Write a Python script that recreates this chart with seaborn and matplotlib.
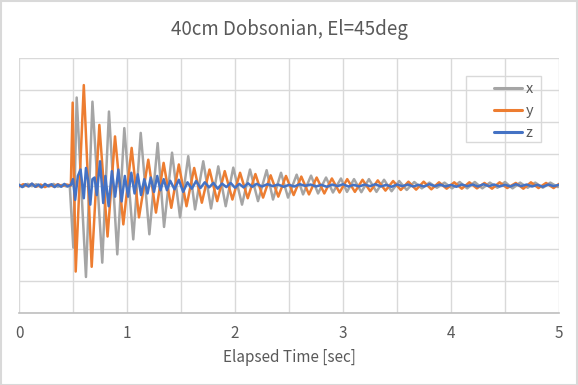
import matplotlib
matplotlib.use("Agg")
import matplotlib.pyplot as plt
from matplotlib.patches import Rectangle
from matplotlib.lines import Line2D
import pandas as pd
import seaborn as sns

# extrema (time in sec, displacement in grid units)
x_t = [0.00, 0.04, 0.08, 0.12, 0.16, 0.20, 0.24, 0.28, 0.32, 0.36, 0.40, 0.44, 0.47,
       0.503, 0.534, 0.62, 0.68, 0.771, 0.833, 0.91, 0.975, 1.058, 1.127, 1.207, 1.284,
       1.343, 1.417, 1.491, 1.567, 1.63, 1.706, 1.778, 1.845, 1.914, 1.984, 2.065, 2.139,
       2.213, 2.293, 2.352, 2.426, 2.491, 2.571, 2.63, 2.704, 2.769, 2.843, 2.907, 2.981,
       3.037, 3.102, 3.17, 3.24, 3.31, 3.38, 3.45, 3.52, 3.59, 3.66, 3.73, 3.80, 3.87,
       3.94, 4.01, 4.08, 4.15, 4.22, 4.29, 4.36, 4.43, 4.50, 4.57, 4.64, 4.71, 4.78,
       4.85, 4.92, 4.99]
x_v = [0.03, -0.04, 0.05, -0.02, 0.04, -0.05, 0.03, -0.03, 0.05, -0.04, 0.02, -0.03, 0.0,
       -1.95, 2.76, -2.87, 2.63, -2.42, 2.32, -2.16, 1.8, -1.69, 1.65, -1.53, 1.33,
       -1.3, 1.03, -1.0, 0.92, -0.75, 0.76, -0.72, 0.6, -0.65, 0.56, -0.6, 0.5,
       -0.49, 0.48, -0.44, 0.4, -0.38, 0.34, -0.28, 0.31, -0.25, 0.25, -0.22, 0.22,
       -0.2, 0.2, -0.21, 0.2, -0.2, 0.18, -0.18, 0.14, -0.14, 0.11, -0.09, 0.09, -0.07,
       0.09, -0.09, 0.11, -0.09, 0.11, -0.09, 0.09, -0.07, 0.11, -0.09, 0.09, -0.07, 0.09,
       -0.07, 0.09, -0.05]

y_t = [0.00, 0.04, 0.08, 0.12, 0.16, 0.20, 0.24, 0.28, 0.32, 0.36, 0.40, 0.44, 0.48,
       0.497, 0.525, 0.60, 0.673, 0.744, 0.82, 0.889, 0.966, 1.043, 1.111, 1.197, 1.268,
       1.339, 1.41, 1.48, 1.551, 1.622, 1.693, 1.764, 1.835, 1.905, 1.976, 2.047, 2.118,
       2.189, 2.26, 2.33, 2.401, 2.472, 2.543, 2.614, 2.685, 2.756, 2.827, 2.897, 2.968,
       3.039, 3.11, 3.181, 3.252, 3.322, 3.393, 3.464, 3.535, 3.606, 3.677, 3.747, 3.818,
       3.889, 3.96, 4.03, 4.10, 4.17, 4.24, 4.31, 4.38, 4.45, 4.52, 4.60, 4.67, 4.74,
       4.81, 4.88, 4.95, 5.0]
y_v = [-0.03, 0.04, -0.02, 0.05, -0.04, 0.03, -0.05, 0.02, -0.03, 0.04, -0.02, 0.03, 0.0,
       2.6, -2.7, 3.15, -2.55, 1.9, -1.6, 1.54, -1.22, 1.18, -1.0, 0.81, -0.85,
       0.71, -0.7, 0.66, -0.65, 0.55, -0.54, 0.5, -0.49, 0.45, -0.44, 0.4, -0.4,
       0.36, -0.38, 0.32, -0.35, 0.3, -0.3, 0.28, -0.28, 0.25, -0.25, 0.22, -0.22,
       0.2, -0.2, 0.18, -0.18, 0.16, -0.16, 0.14, -0.14, 0.12, -0.13, 0.12, -0.12,
       0.1, -0.1, 0.1, -0.1, 0.1, -0.09, 0.08, -0.1, 0.1, -0.08, 0.08, -0.1, 0.1,
       -0.08, 0.08, -0.08, 0.05]

z_t = [0.00, 0.03, 0.06, 0.09, 0.12, 0.15, 0.18, 0.21, 0.24, 0.27, 0.30, 0.33, 0.36,
       0.39, 0.42, 0.45, 0.48,
       0.50, 0.52, 0.545, 0.57, 0.60, 0.62, 0.64, 0.66, 0.68, 0.70, 0.72, 0.75, 0.78,
       0.80, 0.83, 0.86, 0.89, 0.92, 0.95, 0.98, 1.01, 1.04, 1.07, 1.10, 1.13, 1.16,
       1.19, 1.22, 1.25, 1.28, 1.31, 1.34, 1.37,
       1.40, 1.44, 1.48, 1.52, 1.56, 1.60, 1.64, 1.68, 1.72, 1.76, 1.80, 1.84, 1.88,
       1.92, 1.96, 2.00, 2.04, 2.08, 2.12, 2.16, 2.20,
       2.25, 2.30, 2.35, 2.40, 2.45, 2.50, 2.55, 2.60, 2.65, 2.70, 2.75, 2.80, 2.85,
       2.90, 2.95, 3.00, 3.05, 3.10, 3.15, 3.20, 3.25, 3.30, 3.35, 3.40, 3.45, 3.50,
       3.55, 3.60, 3.65, 3.70, 3.75, 3.80, 3.85, 3.90, 3.95, 4.00, 4.05, 4.10, 4.15,
       4.20, 4.25, 4.30, 4.35, 4.40, 4.45, 4.50, 4.55, 4.60, 4.65, 4.70, 4.75, 4.80,
       4.85, 4.90, 4.95, 5.00]
z_v = [0.02, -0.05, 0.04, -0.03, 0.06, -0.04, 0.03, -0.06, 0.05, -0.02, 0.04, -0.05, 0.03,
       -0.04, 0.05, -0.03, 0.02,
       0.2, -0.45, 0.3, 0.5, -0.4, 0.55, 0.15, -0.6, 0.2, 0.25, -0.3, 0.76, -0.55,
       0.3, -0.65, 0.45, -0.35, 0.5, -0.5, 0.3, -0.35, 0.4, -0.25, 0.35, -0.3, 0.2,
       -0.25, 0.25, -0.2, 0.3, -0.15, 0.2, -0.15,
       0.15, -0.12, 0.18, -0.2, 0.1, -0.1, 0.14, -0.08, 0.1, -0.06, 0.08, -0.1, 0.06,
       -0.05, 0.08, -0.07, 0.05, -0.06, 0.07, -0.04, 0.05,
       -0.03, 0.04, -0.02, 0.03, -0.04, 0.02, -0.03, 0.04, -0.01, 0.03, -0.03, 0.02, -0.04,
       0.03, -0.02, 0.04, -0.03, 0.02, -0.03, 0.03, -0.02, 0.04, -0.03, 0.02, -0.04, 0.03,
       -0.02, 0.03, -0.03, 0.02, -0.03, 0.04, -0.02, 0.03, -0.03, 0.02, -0.04, 0.03, -0.02,
       0.03, -0.03, 0.04, -0.02, 0.03, -0.03, 0.02, -0.03, 0.04, -0.02, 0.03, -0.03, 0.02,
       -0.04, 0.03, -0.02, 0.02]

series_names = ["x", "y", "z"]
colors = ["#A5A5A5", "#ED7D31", "#4472C4"]
x_ticks = [0, 1, 2, 3, 4, 5]
x_minor = [0.5, 1.5, 2.5, 3.5, 4.5]
y_grid = [-4, -3, -2, -1, 0, 1, 2, 3, 4]

df = pd.concat([
    pd.DataFrame({"t": x_t, "v": x_v, "axis": "x"}),
    pd.DataFrame({"t": y_t, "v": y_v, "axis": "y"}),
    pd.DataFrame({"t": z_t, "v": z_v, "axis": "z"}),
], ignore_index=True)

sns.set_style("white")
plt.rcParams["font.family"] = ["Noto Sans CJK JP", "DejaVu Sans"]
text_col = "#595959"
grid_col = "#D9D9D9"

fig = plt.figure(figsize=(5.78, 3.85), dpi=100)
ax = fig.add_axes([19 / 578, 1 - 313 / 385, 540 / 578, 255 / 385])

sns.lineplot(data=df, x="t", y="v", hue="axis", hue_order=series_names,
             palette=colors, estimator=None, sort=False, linewidth=1.8,
             legend=False, ax=ax)

ax.set_xlim(0, 5)
ax.set_ylim(-4, 4)
ax.set_xticks(x_ticks)
ax.set_xticks(x_minor, minor=True)
ax.set_yticks(y_grid)
ax.set_yticklabels([])
ax.grid(True, which="both", axis="both", color=grid_col, linewidth=1.0)
ax.set_axisbelow(True)
ax.tick_params(which="both", length=0, labelsize=11, labelcolor=text_col, pad=9)
for side in ["left", "right", "top"]:
    ax.spines[side].set_visible(False)
ax.spines["bottom"].set_color("#BFBFBF")
ax.spines["bottom"].set_linewidth(1.2)

ax.set_xlabel("Elapsed Time [sec]", fontsize=11, color=text_col, labelpad=5)
ax.set_ylabel("")
fig.text(0.5, 1 - 30 / 385, "40cm Dobsonian, El=45deg", ha="center", va="center",
         fontsize=13.5, color=text_col)

# legend box like the Excel one
handles = [Line2D([], [], color=c, linewidth=2.2) for c in colors]
fig.legend(handles, series_names, loc="upper left",
           bbox_to_anchor=(487 / 578, 1 - 75 / 385), frameon=False, borderpad=0,
           handlelength=1.9, handletextpad=0.25, labelspacing=0.55, fontsize=10.5,
           labelcolor=text_col)
fig.patches.append(Rectangle((466 / 578, 1 - 142 / 385), 75 / 578, 66 / 385,
                             transform=fig.transFigure, fill=False,
                             edgecolor=grid_col, linewidth=1.0))
fig.patches.append(Rectangle((0.001, 0.001), 0.997, 0.996, transform=fig.transFigure,
                             fill=False, edgecolor=grid_col, linewidth=1.5))

fig.savefig("out.png", dpi=100)
